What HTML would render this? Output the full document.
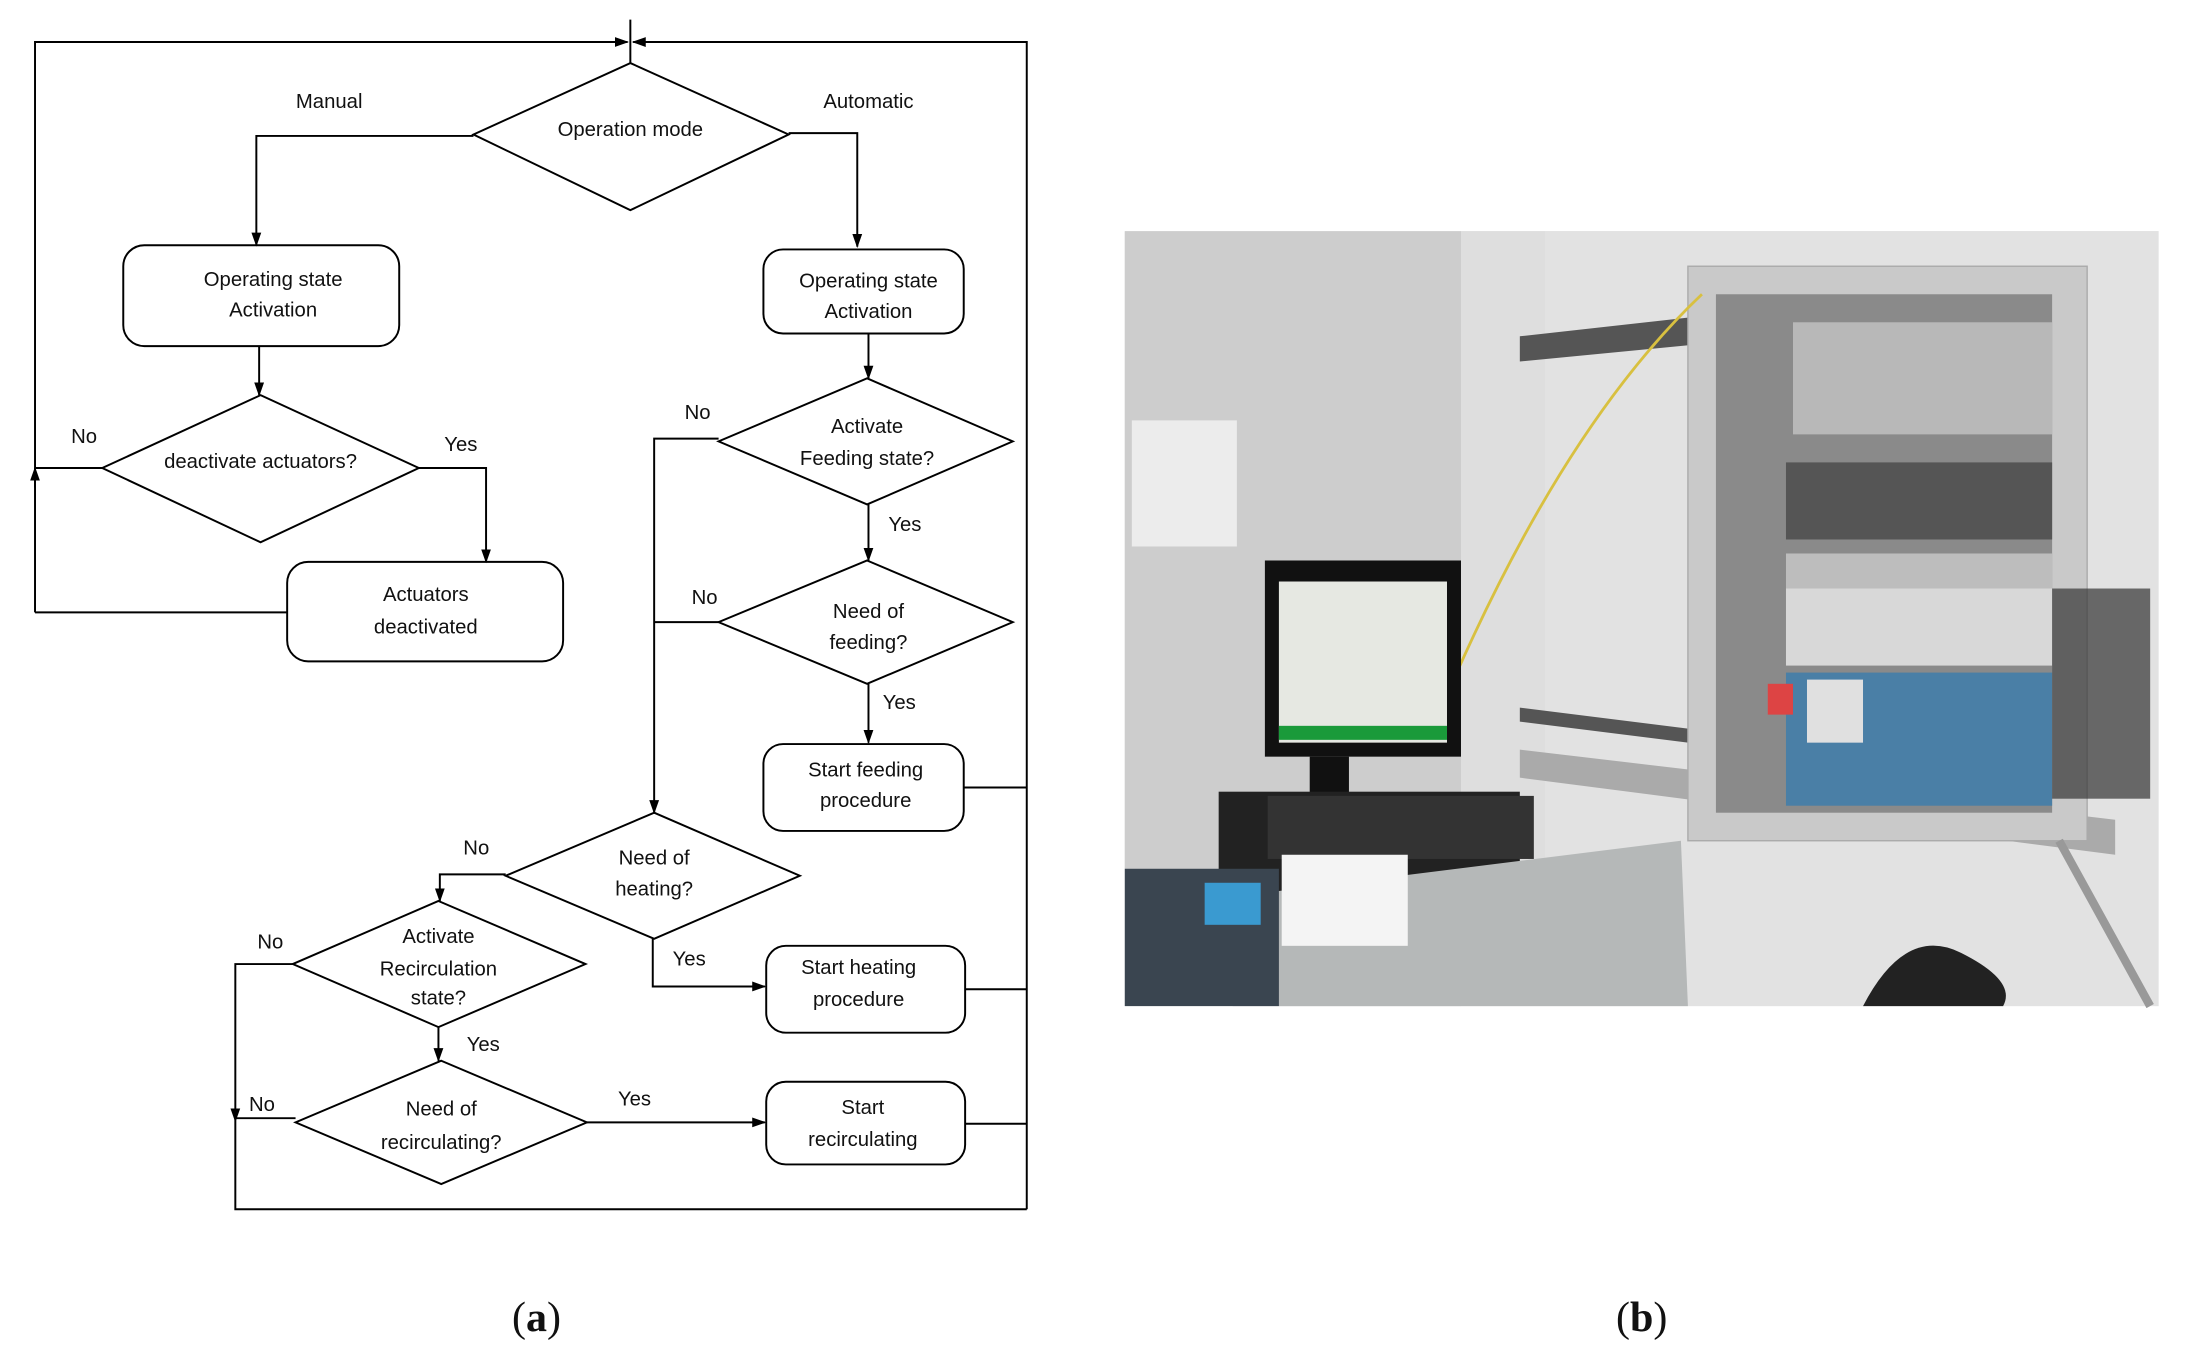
<!DOCTYPE html>
<html><head><meta charset="utf-8"><style>
html,body{margin:0;padding:0;background:#fff}
svg{display:block}
text{font-family:"Liberation Sans Narrow","Liberation Sans",sans-serif;font-size:14.5px;fill:#111;text-anchor:middle}
.c{font-family:"Liberation Serif",serif;font-size:30px}
</style></head><body>
<svg width="2195" height="1369" viewBox="0 0 1567 977" preserveAspectRatio="none" xmlns="http://www.w3.org/2000/svg">
<defs><marker id="a" markerWidth="10" markerHeight="10" refX="9" refY="5" orient="auto" markerUnits="userSpaceOnUse"><path d="M0,1.5 L10,5 L0,8.5 Z" fill="#000"/></marker></defs>
<g fill="none" stroke="#000" stroke-width="1.4">
<line x1="450" y1="14" x2="450" y2="45"/>
<polyline points="25,437 25,30 448,30" marker-end="url(#a)"/>
<polyline points="733,863 733,30 452,30" marker-end="url(#a)"/>
<polygon points="450,45 563,96 450,150 338,96" fill="#fff"/>
<polyline points="338,97 183,97 183,175" marker-end="url(#a)"/>
<rect x="88" y="175" width="197" height="72" rx="15"/>
<line x1="185" y1="247" x2="185" y2="282" marker-end="url(#a)"/>
<polygon points="186,282 299,334 186,387 73,334"/>
<line x1="73" y1="334" x2="25" y2="334"/>
<line x1="25" y1="348" x2="25" y2="334" marker-end="url(#a)"/>
<polyline points="299,334 347,334 347,401" marker-end="url(#a)"/>
<rect x="205" y="401" width="197" height="71" rx="15"/>
<line x1="205" y1="437" x2="25" y2="437"/>
<polyline points="563,95 612,95 612,176" marker-end="url(#a)"/>
<rect x="545" y="178" width="143" height="60" rx="14"/>
<line x1="620" y1="238" x2="620" y2="270" marker-end="url(#a)"/>
<polygon points="619,270 723,315 619,360 513,315"/>
<polyline points="513,313 467,313 467,580" marker-end="url(#a)"/>
<line x1="620" y1="360" x2="620" y2="400" marker-end="url(#a)"/>
<polygon points="619,400 723,444 619,488 513,444"/>
<line x1="513" y1="444" x2="467" y2="444"/>
<line x1="620" y1="488" x2="620" y2="530" marker-end="url(#a)"/>
<rect x="545" y="531" width="143" height="62" rx="14"/>
<line x1="688" y1="562" x2="733" y2="562"/>
<polygon points="467,580 571,625 467,670 361,625"/>
<polyline points="361,624 314,624 314,643" marker-end="url(#a)"/>
<polygon points="313,643 418,688 313,733 209,688"/>
<polyline points="209,688 168,688 168,800" marker-end="url(#a)"/>
<polyline points="168,800 168,863 733,863"/>
<polyline points="466,670 466,704 546,704" marker-end="url(#a)"/>
<rect x="547" y="675" width="142" height="62" rx="14"/>
<line x1="689" y1="706" x2="733" y2="706"/>
<line x1="313" y1="733" x2="313" y2="757" marker-end="url(#a)"/>
<polygon points="315,757 419,801 315,845 211,801"/>
<line x1="211" y1="798" x2="168" y2="798"/>
<line x1="419" y1="801" x2="546" y2="801" marker-end="url(#a)"/>
<rect x="547" y="772" width="142" height="59" rx="14"/>
<line x1="689" y1="802" x2="733" y2="802"/>
</g>
<text x="450" y="97">Operation mode</text>
<text x="235" y="77">Manual</text><text x="620" y="77">Automatic</text>
<text x="195" y="204">Operating state</text><text x="195" y="226">Activation</text>
<text x="186" y="334">deactivate actuators?</text>
<text x="60" y="316">No</text><text x="329" y="322">Yes</text>
<text x="304" y="429">Actuators</text><text x="304" y="452">deactivated</text>
<text x="620" y="205">Operating state</text><text x="620" y="227">Activation</text>
<text x="619" y="309">Activate</text><text x="619" y="332">Feeding state?</text>
<text x="498" y="299">No</text><text x="646" y="379">Yes</text>
<text x="620" y="441">Need of</text><text x="620" y="463">feeding?</text>
<text x="503" y="431">No</text><text x="642" y="506">Yes</text>
<text x="618" y="554">Start feeding</text><text x="618" y="576">procedure</text>
<text x="467" y="617">Need of</text><text x="467" y="639">heating?</text>
<text x="340" y="610">No</text><text x="492" y="689">Yes</text>
<text x="313" y="673">Activate</text><text x="313" y="696">Recirculation</text><text x="313" y="717">state?</text>
<text x="193" y="677">No</text><text x="345" y="750">Yes</text>
<text x="613" y="695">Start heating</text><text x="613" y="718">procedure</text>
<text x="315" y="796">Need of</text><text x="315" y="820">recirculating?</text>
<text x="187" y="793">No</text><text x="453" y="789">Yes</text>
<text x="616" y="795">Start</text><text x="616" y="818">recirculating</text>
<text class="c" x="383" y="950">(<tspan font-weight="bold">a</tspan>)</text>
<text class="c" x="1172" y="950">(<tspan font-weight="bold">b</tspan>)</text>
<g>
<rect x="803" y="165" width="738" height="553" fill="#d6d6d6"/>
<rect x="803" y="165" width="240" height="553" fill="#cdcdcd"/>
<rect x="1043" y="165" width="60" height="553" fill="#dedede"/>
<rect x="1103" y="165" width="438" height="553" fill="#e2e2e2"/>
<rect x="808" y="300" width="75" height="90" fill="#ececec"/>
<polygon points="1085,240 1220,225 1220,245 1085,258" fill="#555"/>
<polygon points="1085,505 1205,520 1205,530 1085,515" fill="#555"/>
<polygon points="1085,535 1510,585 1510,610 1085,555" fill="#aaa"/>
<rect x="1205" y="190" width="285" height="410" fill="#c9c9c9" stroke="#aaa"/>
<rect x="1225" y="210" width="240" height="370" fill="#8a8a8a"/>
<rect x="1280" y="230" width="185" height="80" fill="#b8b8b8"/>
<rect x="1275" y="330" width="190" height="55" fill="#555"/>
<rect x="1275" y="395" width="190" height="25" fill="#bdbdbd"/>
<rect x="1275" y="420" width="190" height="55" fill="#d8d8d8"/>
<rect x="1275" y="480" width="190" height="95" fill="#4a7fa6"/>
<rect x="1290" y="485" width="40" height="45" fill="#e0e0e0"/>
<rect x="1262" y="488" width="18" height="22" fill="#d44"/>
<rect x="1465" y="420" width="70" height="150" fill="#333" opacity=".7"/>
<line x1="1470" y1="600" x2="1535" y2="718" stroke="#999" stroke-width="6"/>
<path d="M1040,480 Q1120,300 1215,210" stroke="#d8c040" stroke-width="2" fill="none"/>
<rect x="903" y="400" width="140" height="140" fill="#111"/>
<rect x="913" y="415" width="120" height="115" fill="#e6e8e2"/>
<rect x="913" y="518" width="120" height="10" fill="#1a9a3a"/>
<rect x="935" y="540" width="28" height="28" fill="#111"/>
<rect x="870" y="565" width="215" height="80" fill="#222"/>
<rect x="905" y="568" width="190" height="45" fill="#333"/>
<polygon points="880,640 1200,600 1205,718 880,718" fill="#b5b8b8"/>
<rect x="915" y="610" width="90" height="65" fill="#f4f4f4"/>
<rect x="803" y="620" width="110" height="98" fill="#3a4550"/>
<rect x="860" y="630" width="40" height="30" fill="#3a9ad0"/>
<path d="M1330,718 Q1360,660 1400,680 Q1440,700 1430,718 Z" fill="#222"/>
</g>
</svg>
</body></html>
